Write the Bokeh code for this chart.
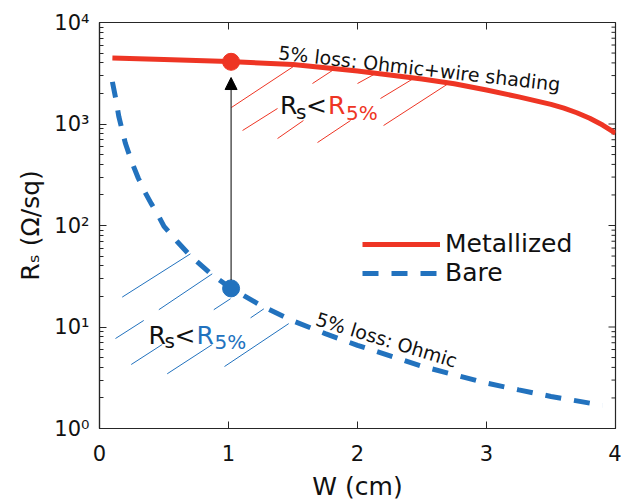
from bokeh.plotting import figure
from bokeh.models import (FixedTicker, CustomJSTickFormatter,
                          Legend, LegendItem, Arrow, NormalHead, Range1d)
from bokeh.core.properties import value
from bokeh.embed import file_html
from bokeh.resources import INLINE

# ---------------- data ----------------
w_metal = [0.1, 0.5, 1.0, 1.5, 2.0, 2.5, 2.75, 3.0, 3.25, 3.5, 3.6, 3.7, 3.8, 3.9, 4.0]
rs_metal = [4470, 4320, 4130, 3850, 3330, 2780, 2490, 2160, 1850, 1560, 1432, 1291, 1140, 977, 811]

w_bare = [0.1, 0.125, 0.15, 0.2, 0.25, 0.3, 0.35, 0.4, 0.45, 0.5, 0.55, 0.6, 0.7, 0.85, 1.0,
          1.25, 1.5, 1.75, 2.0, 2.5, 3.0, 3.25, 3.5, 3.9]
rs_bare = [2600, 1800, 1180, 650, 423, 294, 216, 165, 130, 98, 83, 70, 51, 34.5, 25,
           16.3, 11.5, 8.6, 6.6, 4.1, 2.8, 2.4, 2.07, 1.69]

dot_w = [1.02]
dot_metal = [4100]
dot_bare = [24]
arrow_start = 29
arrow_tip = 2870

# hatch segments (x0, y0, x1, y1)
hatch_red_x0 = [1.023, 1.109, 1.380, 1.651, 2.000, 1.690, 2.178, 2.202]
hatch_red_y0 = [1455, 863, 719, 2506, 2506, 657, 1783, 966]
hatch_red_x1 = [1.504, 1.380, 1.581, 1.829, 2.155, 1.946, 2.434, 2.705]
hatch_red_y1 = [3690, 1422, 1082, 3524, 3215, 1082, 2807, 2506]

hatch_blue_x0 = [0.176, 0.460, 0.124, 0.886, 1.171, 0.246, 0.525, 0.969]
hatch_blue_y0 = [19.7, 14.8, 7.7, 14.8, 12.3, 4.27, 3.46, 4.08]
hatch_blue_x1 = [0.705, 0.874, 0.343, 1.016, 1.274, 0.486, 0.874, 1.467]
hatch_blue_y1 = [52.6, 33.4, 11.6, 19.0, 15.1, 6.72, 6.72, 10.8]

x_min, x_max = 0, 4
y_min, y_max = 1, 1e4
x_ticks = [0, 1, 2, 3, 4]
y_ticks = [1, 10, 100, 1000, 10000]
y_minor = [k * 10 ** d for d in range(4) for k in range(2, 10)]

label_metal = "5% loss: Ohmic+wire shading"
label_bare = "5% loss: Ohmic"
label_metal_pos = (1.388, 5100)
label_bare_pos = (1.682, 12.2)
rs_pos_metal = (1.40, 1520)
rs_pos_bare = (0.38, 8.25)

RED = "#EE3524"
BLUE = "#2272BE"
AX = "#262626"
FONT = "DejaVu Sans"

# ---------------- figure ----------------
p = figure(frame_width=516, frame_height=406,
           x_range=Range1d(x_min, x_max), y_range=Range1d(y_min, y_max), y_axis_type="log",
           output_backend="svg", toolbar_location=None,
           min_border_left=99, min_border_right=6, min_border_top=22, min_border_bottom=40)
p.grid.visible = False
p.outline_line_color = AX
p.outline_line_width = 1.2
p.background_fill_color = "white"
p.border_fill_color = "white"

xa = p.xaxis[0]
xa.ticker = FixedTicker(ticks=x_ticks)
xa.axis_label = "W (cm)"
ya = p.yaxis[0]
ya.ticker = FixedTicker(ticks=y_ticks, minor_ticks=y_minor)
ya.formatter = CustomJSTickFormatter(code="""
const sup = ['\\u2070', '\\u00b9', '\\u00b2', '\\u00b3', '\\u2074'];
return '10' + sup[Math.round(Math.log10(tick))];
""")
ya.axis_label = "R\u209b (\u03a9/sq)"

for ax in (xa, ya):
    ax.axis_line_color = AX
    ax.axis_line_width = 1.2
    ax.major_tick_line_color = AX
    ax.minor_tick_line_color = AX
    ax.major_tick_in = 7
    ax.major_tick_out = 0
    ax.minor_tick_in = 4
    ax.minor_tick_out = 0
    ax.major_label_text_font = FONT
    ax.major_label_text_font_size = "21px"
    ax.major_label_text_color = "#111111"
    ax.axis_label_text_font = FONT
    ax.axis_label_text_font_size = "25px"
    ax.axis_label_text_font_style = "normal"
    ax.axis_label_text_color = "#111111"
xa.minor_tick_line_color = None
xa.major_label_standoff = 16
xa.axis_label_standoff = 8
ya.major_label_standoff = 10
ya.axis_label_standoff = 6

# mirrored ticks on the top and right edges of the box (screen-length rays)
p.ray(x=x_ticks, y=[y_max] * len(x_ticks), length=7, length_units="screen",
      angle=-90, angle_units="deg", line_color=AX, line_width=1)
p.ray(x=[x_max] * len(y_ticks), y=y_ticks, length=7, length_units="screen",
      angle=180, angle_units="deg", line_color=AX, line_width=1)
p.ray(x=[x_max] * len(y_minor), y=y_minor, length=4, length_units="screen",
      angle=180, angle_units="deg", line_color=AX, line_width=1)

# hatch lines
p.segment(x0=hatch_red_x0, y0=hatch_red_y0, x1=hatch_red_x1, y1=hatch_red_y1,
          line_color=RED, line_width=1)
p.segment(x0=hatch_blue_x0, y0=hatch_blue_y0, x1=hatch_blue_x1, y1=hatch_blue_y1,
          line_color=BLUE, line_width=1)

# curves
r_red = p.line(w_metal, rs_metal, line_color=RED, line_width=5)
r_blue = p.line(w_bare, rs_bare, line_color=BLUE, line_width=5, line_dash="16 13")

# arrow + dots
p.add_layout(Arrow(end=NormalHead(size=12, fill_color="black", line_color="black", line_width=1),
                   x_start=dot_w[0], y_start=arrow_start, x_end=dot_w[0], y_end=arrow_tip,
                   line_color="black", line_width=1))
p.scatter(dot_w, dot_metal, size=17, color=RED)
p.scatter(dot_w, dot_bare, size=17, color=BLUE)

# rotated curve labels
p.text(x=[label_metal_pos[0]], y=[label_metal_pos[1]], text=[label_metal], angle=-6.5, angle_units="deg",
       text_font=value(FONT), text_font_size="19px", text_color="#111111",
       text_align="left", text_baseline="alphabetic")
p.text(x=[label_bare_pos[0]], y=[label_bare_pos[1]], text=[label_bare], angle=-17, angle_units="deg",
       text_font=value(FONT), text_font_size="19px", text_color="#111111",
       text_align="left", text_baseline="alphabetic")

# Rs < R5% labels
for (lx, ly), col in ((rs_pos_metal, RED), (rs_pos_bare, BLUE)):
    common = dict(text_font=value(FONT), text_align="left", text_baseline="alphabetic")
    p.text(x=[lx], y=[ly], text=["R"], text_color="#111111", text_font_size="25px", **common)
    p.text(x=[lx], y=[ly], text=["s"], text_color="#111111", text_font_size="20px",
           x_offset=16, y_offset=6, **common)
    p.text(x=[lx], y=[ly], text=["<"], text_color="#111111", text_font_size="25px",
           x_offset=26, **common)
    p.text(x=[lx], y=[ly], text=["R"], text_color=col, text_font_size="25px",
           x_offset=48, **common)
    p.text(x=[lx], y=[ly], text=["5%"], text_color=col, text_font_size="20px",
           x_offset=66, y_offset=7, **common)

legend = Legend(items=[LegendItem(label="Metallized", renderers=[r_red]),
                       LegendItem(label="Bare", renderers=[r_blue])],
                location=(263, 141), glyph_width=78, glyph_height=24, label_height=24,
                label_standoff=5, spacing=0, padding=0, margin=0,
                border_line_color=None, background_fill_alpha=0,
                label_text_font=FONT, label_text_font_size="25px", label_text_color="#111111")
p.add_layout(legend)

with open("out.html", "w", encoding="utf-8") as f:
    f.write(file_html(p, INLINE))
